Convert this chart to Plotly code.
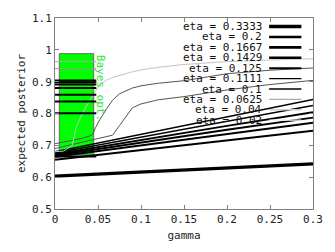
import plotly.graph_objects as go

ETAS = ["0.3333", "0.2", "0.1667", "0.1429", "0.125", "0.1111", "0.1", "0.0625", "0.04", "0.02"]

# straight-ish curves (large eta)
G_LINE = [0, 0.1, 0.2, 0.3]
P_0333 = [0.603, 0.616, 0.629, 0.642]
P_0200 = [0.655, 0.686, 0.716, 0.746]
P_0167 = [0.664, 0.700, 0.736, 0.771]
P_0143 = [0.668, 0.709, 0.749, 0.787]
P_0125 = [0.672, 0.717, 0.761, 0.804]
P_0111 = [0.676, 0.726, 0.776, 0.825]
P_0100 = [0.680, 0.735, 0.790, 0.844]

# curved (small eta)
G_CURVE = [0, 0.01, 0.02, 0.025, 0.03, 0.04, 0.044, 0.047, 0.052, 0.06, 0.067,
           0.075, 0.09, 0.1, 0.12, 0.15, 0.2, 0.25, 0.3]
P_0063 = [0.690, 0.696, 0.702, 0.705, 0.708, 0.714, 0.717, 0.719, 0.722, 0.727, 0.732,
          0.762, 0.818, 0.830, 0.843, 0.853, 0.874, 0.891, 0.904]
P_0040 = [0.705, 0.710, 0.716, 0.718, 0.721, 0.729, 0.735, 0.755, 0.780, 0.815, 0.842,
          0.862, 0.880, 0.887, 0.895, 0.903, 0.925, 0.936, 0.943]
P_0020 = [0.680, 0.682, 0.700, 0.760, 0.790, 0.840, 0.855, 0.870, 0.890, 0.905, 0.913,
          0.920, 0.931, 0.937, 0.945, 0.954, 0.963, 0.968, 0.972]

# Bayes optimum per eta (same order as ETAS)
BAYES_GAMMA = [0.0, 0.048]
BAYES_OPT = [0.665, 0.801, 0.838, 0.859, 0.880, 0.891, 0.898, 0.904, 0.941, 0.963]

BOX_GAMMA = [0.005, 0.045]
BOX_POST = [0.67, 0.988]

CURVES = [(G_LINE, P_0333), (G_LINE, P_0200), (G_LINE, P_0167), (G_LINE, P_0143),
          (G_LINE, P_0125), (G_LINE, P_0111), (G_LINE, P_0100),
          (G_CURVE, P_0063), (G_CURVE, P_0040), (G_CURVE, P_0020)]

curve_style = [("#000", 3.2), ("#000", 2.0), ("#000", 2.0), ("#000", 1.9), ("#000", 1.8),
               ("#000", 1.6), ("#000", 1.5), ("#555", 1.0), ("#555", 1.0), ("#c4c4c4", 1.0)]
bayes_style = [("#000", 2.0), ("#000", 2.0), ("#000", 2.0), ("#000", 2.0), ("#000", 2.0),
               ("#000", 2.0), ("#000", 2.0), ("#000", 2.0), ("#999", 1.0), ("#aaa", 1.0)]
legend_style = [("#000", 3.5), ("#000", 2.6), ("#000", 2.6), ("#000", 2.4), ("#000", 2.0),
                ("#000", 1.3), ("#000", 1.3), ("#aaa", 1.4), ("#d0d0d0", 1.4), ("#eeeeee", 1.2)]

FONT = "DejaVu Sans Mono"
fig = go.Figure()

# green box (Bayes opt. region)
fig.add_trace(go.Scatter(
    x=[BOX_GAMMA[0], BOX_GAMMA[1], BOX_GAMMA[1], BOX_GAMMA[0], BOX_GAMMA[0]],
    y=[BOX_POST[0], BOX_POST[0], BOX_POST[1], BOX_POST[1], BOX_POST[0]],
    fill="toself", fillcolor="#00ff00", mode="lines",
    line=dict(color="#6a6a6a", width=1), showlegend=False, hoverinfo="skip"))

for (g, p), (c, w) in zip(CURVES, curve_style):
    fig.add_trace(go.Scatter(x=g, y=p, mode="lines", line=dict(color=c, width=w),
                             showlegend=False))

for b, (c, w) in zip(BAYES_OPT, bayes_style):
    fig.add_trace(go.Scatter(x=BAYES_GAMMA, y=[b, b], mode="lines",
                             line=dict(color=c, width=w), showlegend=False))

fig.add_annotation(x=0.053, y=0.882, text="Bayes opt.", textangle=90, showarrow=False,
                   font=dict(family=FONT, size=11, color="#2ee62e"))

# legend (gnuplot style: text right, sample line at right)
row0, drow = 0.955, 11 / 202
for i, (eta, (c, w)) in enumerate(zip(ETAS, legend_style)):
    yy = row0 - i * drow
    fig.add_annotation(xref="paper", yref="paper", x=0.81, y=yy, xanchor="right",
                       yanchor="middle", text=f"eta = {eta}", showarrow=False,
                       font=dict(family=FONT, size=11, color="#111"))
    fig.add_shape(type="line", xref="paper", yref="paper", x0=0.83, x1=0.955,
                  y0=yy, y1=yy, line=dict(color=c, width=w))

axis_common = dict(showgrid=False, zeroline=False, showline=True, linecolor="#808080",
                   linewidth=1, mirror="ticks", ticks="inside", ticklen=4,
                   tickcolor="#808080", tickfont=dict(family=FONT, size=11, color="#222"))
fig.update_xaxes(range=[0, 0.3], dtick=0.05, tick0=0,
                 title=dict(text="gamma", font=dict(family=FONT, size=11, color="#222"),
                            standoff=6), **axis_common)
fig.update_yaxes(range=[0.5, 1.1], dtick=0.1, tick0=0.5,
                 title=dict(text="expected posterior",
                            font=dict(family=FONT, size=11, color="#222"), standoff=4),
                 **axis_common)
fig.update_layout(width=335, height=252, margin=dict(l=55, r=21, t=13, b=37),
                  plot_bgcolor="white", paper_bgcolor="white", showlegend=False)
fig.write_html(
    "out.html",
    config={"displayModeBar": False, "staticPlot": True},
    post_script=("document.body.style.margin='0';"
                 "document.body.style.overflow='hidden';"
                 "document.documentElement.style.overflow='hidden';"))
